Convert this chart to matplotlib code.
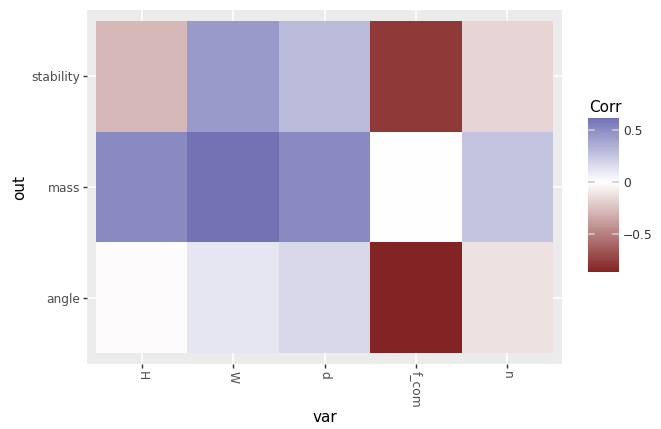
import numpy as np
import matplotlib
matplotlib.use("Agg")
import matplotlib.pyplot as plt
from matplotlib.colors import LinearSegmentedColormap, Normalize

# categories
var_names = ["H", "W", "d", "f_com", "n"]
out_names = ["angle", "mass", "stability"]

# correlation values (rows follow out_names, cols follow var_names)
corr_angle = [-0.015, 0.11, 0.17, -0.865, -0.115]
corr_mass = [0.51, 0.62, 0.51, 0.0, 0.26]
corr_stability = [-0.28, 0.44, 0.30, -0.78, -0.165]

corr = np.array([corr_angle, corr_mass, corr_stability])

# gradient2 style: low / mid / high, mid at 0, symmetric rescale
cmap = LinearSegmentedColormap.from_list("g2", ["#832424", "#FFFFFF", "#3A3A98"])
lim = np.abs(corr).max()
norm = Normalize(-lim, lim)

fig = plt.figure(figsize=(6.61, 4.29), dpi=100)
ax = fig.add_axes([87/661, 1-364/429, 475/661, 354/429])
ax.set_facecolor("#EBEBEB")

xs = np.arange(len(var_names))
ys = np.arange(len(out_names))
for x in xs:
    ax.axvline(x, color="white", lw=1.1, zorder=0)
for y in ys:
    ax.axhline(y, color="white", lw=1.1, zorder=0)

edges_x = np.arange(len(var_names)+1) - 0.5
edges_y = np.arange(len(out_names)+1) - 0.5
ax.pcolormesh(edges_x, edges_y, corr, cmap=cmap, norm=norm, zorder=1)

ax.set_xlim(-0.6, len(var_names)-0.4)
ax.set_ylim(-0.6, len(out_names)-0.4)
ax.set_xticks(xs)
ax.set_xticklabels(var_names, rotation=-90)
ax.set_yticks(ys)
ax.set_yticklabels(out_names)
ax.tick_params(length=3, width=1, color="#333333", labelcolor="#4D4D4D", labelsize=8.8, pad=2)
for s in ax.spines.values():
    s.set_visible(False)
ax.set_xlabel("var", fontsize=11, labelpad=2)
ax.set_ylabel("out", fontsize=11, labelpad=3)

# legend colourbar
cax = fig.add_axes([588/661, 1-272/429, 31/661, 154/429])
vals = np.linspace(corr.min(), corr.max(), 300)
cax.pcolormesh([0, 1], vals, vals[:-1, None], cmap=cmap, norm=norm, shading="flat")
cax.set_xlim(0, 1)
cax.set_ylim(corr.min(), corr.max())
cax.set_xticks([])
for s in cax.spines.values():
    s.set_visible(False)
for t in [-0.5, 0, 0.5]:
    cax.plot([0, 0.2], [t, t], color="#CCCCCC", lw=1.2)
    cax.plot([0.8, 1], [t, t], color="#CCCCCC", lw=1.2)
cax.yaxis.tick_right()
cax.set_yticks([-0.5, 0, 0.5])
cax.set_yticklabels(["\u22120.5", "0", "0.5"])
cax.tick_params(axis="y", length=0, labelsize=8.8, labelcolor="#333333", pad=3)
fig.text(589/661, 1-108/429, "Corr", fontsize=11, va="center", ha="left")

fig.savefig("out.png", dpi=100)
